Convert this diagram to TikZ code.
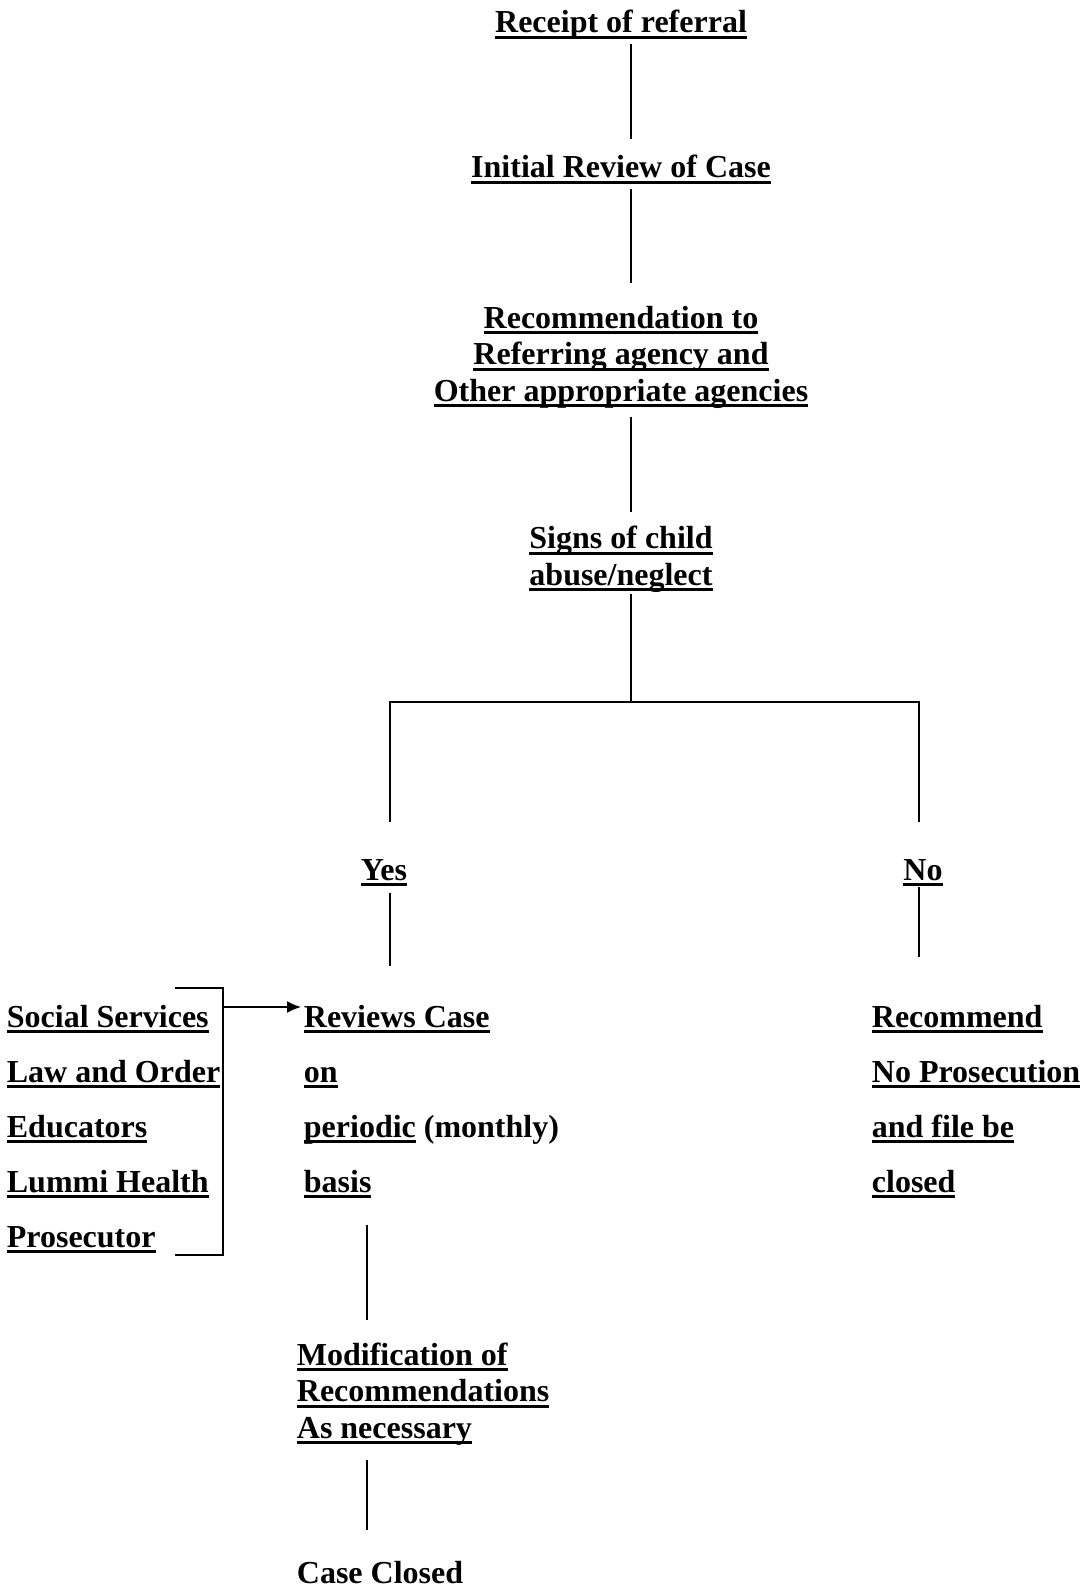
\documentclass[tikz,border=0pt]{standalone}
\usepackage{fontspec}
\setmainfont{Liberation Serif}
\usetikzlibrary{arrows.meta}

\newsavebox{\ulinebox}
\newcommand{\ulined}[1]{\sbox{\ulinebox}{#1}\rlap{\rule[-3pt]{\wd\ulinebox}{1.5pt}}\usebox{\ulinebox}}

\tikzset{
  every node/.style={inner sep=0pt, font=\fontsize{16}{18.25}\selectfont\bfseries},
  stage/.style={anchor=base, align=center},
  column/.style={anchor=base west, align=left, font=\fontsize{16}{27.5}\selectfont\bfseries},
  every path/.style={line width=0.9pt}
}

\begin{document}
\begin{tikzpicture}[x=0.5pt,y=-0.5pt]
\useasboundingbox (0,0) rectangle (1084,1589);
% main stages (multi-line nodes sit on their last line)
\node[stage] (receipt) at (621,33) {\ulined{Receipt of referral}};
\node[stage] (initial) at (621,178) {\ulined{Initial Review of Case}};
\node[stage] (recommend) at (621,401) {\ulined{Recommendation to}\\\ulined{Referring agency and}\\\ulined{Other appropriate agencies}};
\node[stage] (signs) at (621,585) {\ulined{Signs of child}\\\ulined{abuse/neglect}};
\node[stage] (yes) at (384,880) {\ulined{Yes}};
\node[stage] (no) at (923,880) {\ulined{No}};
% columns
\node[column] (agencies) at (6,1247) {\ulined{Social Services}\\\ulined{Law and Order}\\\ulined{Educators}\\\ulined{Lummi Health}\\\ulined{Prosecutor}};
\node[column] (reviews) at (303,1192) {\ulined{Reviews Case}\\\ulined{on}\\\ulined{periodic} (monthly)\\\ulined{basis}};
\node[column] (noprosecution) at (871,1192) {\ulined{Recommend}\\\ulined{No Prosecution}\\\ulined{and file be}\\\ulined{closed}};
\node[stage, anchor=base west, align=left] (modify) at (296,1438) {\ulined{Modification of}\\\ulined{Recommendations}\\\ulined{As necessary}};
\node[anchor=base west] (closed) at (296,1583) {Case Closed};

\coordinate (spine) at (631,0);
\coordinate (fork) at (631,702);
\coordinate (branchx) at (367,0);
\coordinate (bracetop) at (175,988);
\coordinate (bracebot) at (175,1255);
\coordinate (bracex) at (223,1007);

% connectors
\draw[shorten <=1.5pt, shorten >=8pt] (receipt.south -| spine) -- (initial.north -| spine);
\draw[shorten <=2pt, shorten >=11pt] (initial.south -| spine) -- (recommend.north -| spine);
\draw[shorten <=4pt, shorten >=6.5pt] (recommend.south -| spine) -- (signs.north -| spine);
\draw[shorten <=0.5pt] (signs.south -| spine) -- (fork);
\draw[shorten <=18pt, shorten >=18pt] ([xshift=3pt]yes.north) |- (fork) -| ([xshift=-2pt]no.north);
\draw[shorten <=3pt, shorten >=19pt] ([xshift=3pt]yes.south) -- ([xshift=3pt]yes.south |- reviews.north);
\draw[shorten >=23.5pt] ([xshift=-2pt]no.south) -- ([xshift=-2pt]no.south |- noprosecution.north);
\draw[shorten <=13pt, shorten >=11pt] (reviews.south -| branchx) -- (modify.north -| branchx);
\draw[shorten <=7pt, shorten >=15pt] (modify.south -| branchx) -- (closed.north -| branchx);
% bracket
\draw (bracetop) -| (bracex |- bracebot) -- (bracebot);
\draw[-{Latex[length=7pt,width=6pt]}, shorten >=1pt] (bracex) -- (reviews.west |- bracex);
\end{tikzpicture}
\end{document}
